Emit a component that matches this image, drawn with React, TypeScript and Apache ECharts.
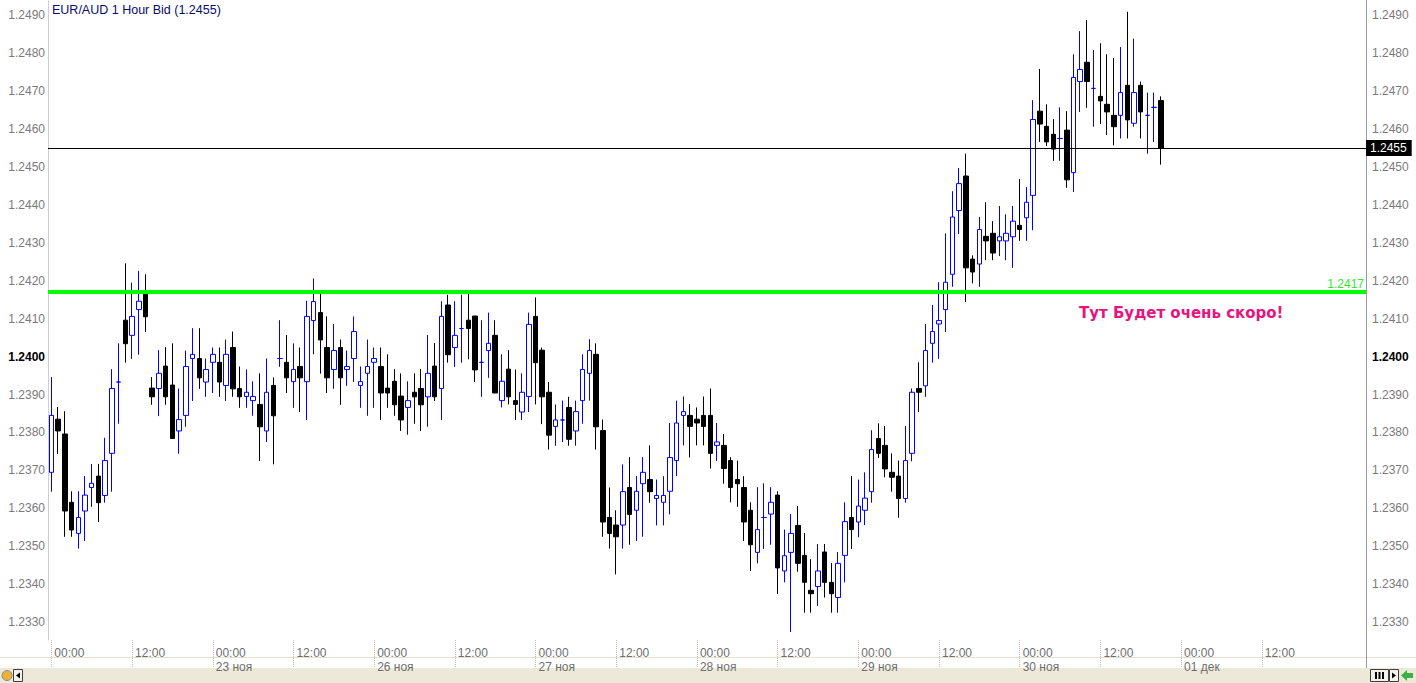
import React, { useEffect, useRef } from 'react';
import * as echarts from 'echarts';

const days = ['22 ноя', '23 ноя', '26 ноя', '27 ноя', '28 ноя', '29 ноя', '30 ноя', '01 дек', '02 дек'];
const slotCount = 196;

const open = [
  1.23695, 1.23835, 1.23796, 1.23616, 1.23534, 1.23593, 1.23655, 1.23685, 1.23634, 1.23745,
  1.23933, 1.24096, 1.24056, 1.24124, 1.24164, 1.23917, 1.23916, 1.23975, 1.23925, 1.23804,
  1.23845, 1.23995, 1.23995, 1.23933, 1.23985, 1.23985, 1.23924, 1.24024, 1.23916, 1.23895,
  1.23884, 1.23874, 1.23804, 1.23924, 1.23995, 1.23985, 1.23934, 1.23974, 1.23934, 1.24095,
  1.24116, 1.24024, 1.23966, 1.24024, 1.23966, 1.23995, 1.23924, 1.23956, 1.23985, 1.23974,
  1.23917, 1.23935, 1.23896, 1.23866, 1.23906, 1.23916, 1.23894, 1.23975, 1.23916, 1.24136,
  1.24024, 1.24074, 1.24096, 1.24107, 1.23985, 1.24016, 1.24056, 1.23884, 1.23967, 1.23884,
  1.23854, 1.23895, 1.24106, 1.24017, 1.23906, 1.23816, 1.23833, 1.23866, 1.23804, 1.23884,
  1.23956, 1.24006, 1.23805, 1.23576, 1.23556, 1.23556, 1.23655, 1.23595, 1.23665, 1.23676,
  1.23626, 1.23616, 1.23645, 1.23726, 1.23845, 1.23845, 1.23835, 1.23845, 1.23845, 1.23766,
  1.23766, 1.23726, 1.23676, 1.23655, 1.23595, 1.23484, 1.23576, 1.23585, 1.23635, 1.23435,
  1.23484, 1.23555, 1.23476, 1.23384, 1.23394, 1.23485, 1.23405, 1.23365, 1.23476, 1.23576,
  1.23564, 1.23595, 1.23644, 1.23784, 1.23766, 1.23695, 1.23685, 1.23626, 1.23745, 1.23916,
  1.23923, 1.24035, 1.24086, 1.24124, 1.24217, 1.24385, 1.24476, 1.24257, 1.24244, 1.24317,
  1.24325, 1.24305, 1.24305, 1.24316, 1.24346, 1.24366, 1.24425, 1.24647, 1.24607, 1.24586,
  1.24575, 1.24597, 1.24485, 1.24725, 1.24776, 1.24707, 1.24686, 1.24665, 1.24636, 1.24636,
  1.24715, 1.24615, 1.24715, 1.24636, 1.24657, 1.24675,
];

const close = [
  1.23845, 1.23804, 1.23593, 1.23543, 1.23576, 1.23635, 1.23666, 1.23615, 1.23726, 1.23916,
  1.23933, 1.24034, 1.24106, 1.24146, 1.24105, 1.23894, 1.23956, 1.23894, 1.23784, 1.23834,
  1.23974, 1.24006, 1.23944, 1.23966, 1.24006, 1.23933, 1.24006, 1.23915, 1.23894, 1.23906,
  1.23895, 1.23815, 1.23906, 1.23844, 1.23995, 1.23944, 1.23966, 1.23944, 1.24106, 1.24145,
  1.24044, 1.23944, 1.24016, 1.23944, 1.23974, 1.24066, 1.23934, 1.23974, 1.23995, 1.23904,
  1.23904, 1.23873, 1.23833, 1.23884, 1.23894, 1.23873, 1.23956, 1.23894, 1.24106, 1.24005,
  1.24056, 1.24074, 1.24074, 1.23965, 1.23985, 1.24035, 1.23904, 1.23935, 1.23894, 1.23874,
  1.23906, 1.24085, 1.23984, 1.23894, 1.23793, 1.23833, 1.23833, 1.23782, 1.23855, 1.23966,
  1.24016, 1.23815, 1.23564, 1.23534, 1.23525, 1.23644, 1.23584, 1.23645, 1.23695, 1.23644,
  1.23634, 1.23634, 1.23734, 1.23825, 1.23855, 1.23816, 1.23825, 1.23816, 1.23745, 1.23775,
  1.23705, 1.23655, 1.23665, 1.23564, 1.23504, 1.23544, 1.23576, 1.23616, 1.23443, 1.23475,
  1.23534, 1.23455, 1.23405, 1.23375, 1.23435, 1.23405, 1.23375, 1.23455, 1.23565, 1.23544,
  1.23606, 1.23627, 1.23755, 1.23745, 1.23704, 1.23682, 1.23626, 1.23726, 1.23906, 1.23906,
  1.24016, 1.24066, 1.24095, 1.24196, 1.24368, 1.24456, 1.24234, 1.24223, 1.24335, 1.24305,
  1.24273, 1.24316, 1.24325, 1.24357, 1.24335, 1.24407, 1.24625, 1.24613, 1.24566, 1.24547,
  1.24575, 1.24466, 1.24736, 1.24757, 1.24725, 1.24707, 1.24674, 1.24645, 1.24606, 1.24696,
  1.24624, 1.24696, 1.24645, 1.24636, 1.24657, 1.24550,
];

const low = [
  1.23644, 1.23743, 1.23525, 1.23525, 1.23494, 1.23514, 1.23604, 1.23564, 1.23615, 1.23644,
  1.23823, 1.23984, 1.23994, 1.24005, 1.24065, 1.23873, 1.23843, 1.23873, 1.23784, 1.23744,
  1.23815, 1.23883, 1.23915, 1.23894, 1.23904, 1.23894, 1.23883, 1.23894, 1.23865, 1.23865,
  1.23844, 1.23725, 1.23775, 1.23716, 1.23973, 1.23904, 1.23865, 1.23854, 1.23833, 1.24006,
  1.23955, 1.23904, 1.23915, 1.23873, 1.23923, 1.23933, 1.23865, 1.23844, 1.23865, 1.23833,
  1.23865, 1.23844, 1.23804, 1.23794, 1.23823, 1.23804, 1.23815, 1.23883, 1.23833, 1.23984,
  1.23973, 1.23984, 1.23993, 1.23933, 1.23894, 1.23944, 1.23904, 1.23866, 1.23874, 1.23833,
  1.23833, 1.23854, 1.23874, 1.23822, 1.23755, 1.23765, 1.23775, 1.23765, 1.23765, 1.23823,
  1.23884, 1.23755, 1.23525, 1.23494, 1.23426, 1.23494, 1.23504, 1.23514, 1.23525, 1.23615,
  1.23555, 1.23555, 1.23584, 1.23685, 1.23766, 1.23734, 1.23766, 1.23766, 1.23705, 1.23725,
  1.23665, 1.23616, 1.23604, 1.23514, 1.23435, 1.23455, 1.23493, 1.23504, 1.23374, 1.23405,
  1.23274, 1.23433, 1.23325, 1.23325, 1.23343, 1.23365, 1.23325, 1.23325, 1.23405, 1.23493,
  1.23524, 1.23556, 1.23615, 1.23733, 1.23682, 1.23644, 1.23575, 1.23615, 1.23724, 1.23854,
  1.23894, 1.23984, 1.23994, 1.24065, 1.24184, 1.24323, 1.24144, 1.24193, 1.24184, 1.24254,
  1.24254, 1.24265, 1.24254, 1.24234, 1.24305, 1.24305, 1.24333, 1.24566, 1.24555, 1.24516,
  1.24516, 1.24445, 1.24434, 1.24645, 1.24656, 1.24606, 1.24613, 1.24584, 1.24557, 1.24575,
  1.24575, 1.24606, 1.24575, 1.24535, 1.24566, 1.24506,
];

const high = [
  1.23946, 1.23867, 1.23856, 1.23645, 1.23645, 1.23685, 1.23717, 1.23717, 1.23786, 1.23967,
  1.24035, 1.24246, 1.24195, 1.24226, 1.24217, 1.23946, 1.24017, 1.24025, 1.24035, 1.23916,
  1.24016, 1.24075, 1.24075, 1.23995, 1.24024, 1.24024, 1.24045, 1.24066, 1.23974, 1.23966,
  1.23935, 1.23956, 1.23995, 1.23945, 1.24096, 1.24057, 1.24035, 1.24024, 1.24147, 1.24206,
  1.24166, 1.24106, 1.24086, 1.24045, 1.24016, 1.24106, 1.23974, 1.24045, 1.24024, 1.24024,
  1.24006, 1.23967, 1.23956, 1.23935, 1.23956, 1.23967, 1.24057, 1.24036, 1.24146, 1.24163,
  1.24146, 1.24163, 1.24175, 1.24107, 1.24096, 1.24116, 1.24096, 1.24006, 1.24017, 1.23966,
  1.23956, 1.24116, 1.24156, 1.24024, 1.23933, 1.23874, 1.23884, 1.23894, 1.23884, 1.24006,
  1.24046, 1.24035, 1.23834, 1.23655, 1.23595, 1.23716, 1.23735, 1.23685, 1.23735, 1.23766,
  1.23676, 1.23685, 1.23825, 1.23884, 1.23895, 1.23875, 1.23866, 1.23895, 1.23916, 1.23825,
  1.23796, 1.23735, 1.23726, 1.23685, 1.23616, 1.23656, 1.23666, 1.23656, 1.23645, 1.23544,
  1.23585, 1.23606, 1.23535, 1.23466, 1.23506, 1.23506, 1.23456, 1.23485, 1.23616, 1.23685,
  1.23676, 1.23695, 1.23806, 1.23824, 1.23817, 1.23745, 1.23726, 1.23817, 1.23916, 1.23985,
  1.24086, 1.24136, 1.24196, 1.24325, 1.24436, 1.24497, 1.24535, 1.24267, 1.24368, 1.24407,
  1.24357, 1.24397, 1.24375, 1.24397, 1.24468, 1.24447, 1.24676, 1.24758, 1.24665, 1.24626,
  1.24657, 1.24647, 1.24797, 1.24858, 1.24887, 1.24808, 1.24826, 1.24797, 1.24787, 1.24816,
  1.24909, 1.24838, 1.24725, 1.24696, 1.24696, 1.24686,
];

const yTicks = [
  1.233, 1.234, 1.235, 1.236, 1.237, 1.238, 1.239, 1.24,
  1.241, 1.242, 1.243, 1.244, 1.245, 1.246, 1.247, 1.248, 1.249,
];
const currentPrice = 1.2455;
const levelPrice = 1.2417;
const titleText = 'EUR/AUD 1 Hour Bid (1.2455)';
const noteText = 'Тут Будет очень скоро!';

const FONT = '"Liberation Sans", Arial, sans-serif';

export default function App() {
  const ref = useRef<HTMLDivElement>(null);

  useEffect(() => {
    if (!ref.current) return;
    const chart = echarts.init(ref.current, null, { renderer: 'svg' });

    const hours = Array.from({ length: 24 }, (_, h) => (h < 10 ? '0' : '') + h + ':00');
    const categories = days
      .flatMap((d) => hours.map((h) => d + ' ' + h))
      .slice(0, slotCount);

    const candleData: any[] = categories.map((_, i) => {
      if (i >= open.length) return '-';
      const v = [open[i], close[i], low[i], high[i]];
      if (open[i] === close[i]) {
        return { value: v, itemStyle: { color0: '#ffffff', borderColor0: '#0000ff' } };
      }
      return v;
    });

    const emptyLine = categories.map(() => '-');

    const yLabel = (v: number) => {
      const s = v.toFixed(4);
      return Math.abs(v - 1.24) < 1e-7 ? '{b|' + s + '}' : '{n|' + s + '}';
    };
    const yRich = {
      n: { color: '#7a7a7a', fontSize: 12, fontFamily: FONT },
      b: { color: '#000000', fontSize: 12, fontWeight: 'bold', fontFamily: FONT },
    };

    const showTick = (i: number) => i % 12 === 0 && i < 192;
    const showLabel = (i: number) => i % 12 === 0 && i < 190;

    const option: any = {
      animation: false,
      backgroundColor: '#ffffff',
      textStyle: { fontFamily: FONT },
      grid: { left: 48, right: 50, top: 0, bottom: 43, containLabel: false },
      xAxis: {
        type: 'category',
        data: categories,
        boundaryGap: true,
        axisLine: { show: false },
        splitLine: { show: false },
        axisTick: {
          show: true,
          alignWithLabel: true,
          interval: (i: number) => showTick(i),
          length: 28,
          lineStyle: { color: '#bdbdbd', type: 'dotted', width: 1 },
        },
        axisLabel: {
          interval: (i: number) => showLabel(i),
          align: 'left',
          margin: 6,
          padding: [0, 0, 0, 3],
          formatter: (value: string, index: number) => {
            const parts = value.split(' ');
            const hm = parts[2];
            if (hm === '00:00' && index > 0) {
              return '{t|' + hm + '}\n{d|' + parts[0] + ' ' + parts[1] + '}';
            }
            return '{t|' + hm + '}';
          },
          rich: {
            t: { color: '#6e6e6e', fontSize: 12, lineHeight: 14, fontFamily: FONT },
            d: { color: '#6e6e6e', fontSize: 12, lineHeight: 14, fontFamily: FONT },
          },
        },
      },
      yAxis: [
        {
          type: 'value',
          position: 'left',
          min: 1.23253,
          max: 1.2494,
          scale: true,
          splitLine: { show: false },
          axisTick: { show: false },
          axisLine: { show: true, lineStyle: { color: '#c4c4c4', type: 'dotted', width: 1 } },
          axisLabel: { customValues: yTicks, margin: 3, formatter: yLabel, rich: yRich },
        },
        {
          type: 'value',
          position: 'right',
          min: 1.23253,
          max: 1.2494,
          scale: true,
          splitLine: { show: false },
          axisTick: { show: false },
          axisLine: { show: true, lineStyle: { color: '#9c9c9c', width: 1 } },
          axisLabel: { customValues: yTicks, margin: 6, formatter: yLabel, rich: yRich },
        },
      ],
      series: [
        {
          type: 'line',
          data: emptyLine,
          yAxisIndex: 0,
          showSymbol: false,
          silent: true,
          z: 1,
          markLine: {
            silent: true,
            symbol: 'none',
            precision: 5,
            animation: false,
            data: [
              {
                yAxis: levelPrice,
                lineStyle: { color: '#00ff00', width: 4, type: 'solid' },
                label: {
                  show: true,
                  position: 'insideEndTop',
                  distance: 2,
                  formatter: () => levelPrice.toFixed(4),
                  color: '#33e633',
                  fontSize: 12,
                  fontFamily: FONT,
                },
              },
              {
                yAxis: currentPrice,
                lineStyle: { color: '#000000', width: 1, type: 'solid' },
                label: {
                  show: true,
                  position: 'end',
                  distance: 0,
                  formatter: () => currentPrice.toFixed(4),
                  color: '#ffffff',
                  backgroundColor: '#000000',
                  padding: [2, 5, 2, 4],
                  lineHeight: 12,
                  fontSize: 12,
                  fontFamily: FONT,
                },
              },
            ],
          },
        },
        {
          type: 'candlestick',
          data: candleData,
          yAxisIndex: 0,
          barWidth: 5,
          z: 3,
          itemStyle: {
            color: '#ffffff',
            color0: '#000000',
            borderColor: '#0000ff',
            borderColor0: '#000000',
            borderWidth: 1,
          },
        },
      ],
      graphic: [
        {
          type: 'text',
          left: 52,
          top: 3,
          style: { text: titleText, fill: '#0a0a6e', fontSize: 12.5, fontFamily: FONT },
        },
        {
          type: 'text',
          left: 1079,
          top: 305,
          style: { text: noteText, fill: '#e8137f', fontSize: 15, fontWeight: 'bold', fontFamily: '"DejaVu Sans", Verdana, sans-serif' },
        },
        {
          type: 'line',
          shape: { x1: 0, y1: 657.5, x2: 1416, y2: 657.5 },
          style: { stroke: '#e6e1cc', lineWidth: 1 },
        },
        {
          type: 'line',
          shape: { x1: 1366.5, y1: 640, x2: 1366.5, y2: 668 },
          style: { stroke: '#9c9c9c', lineWidth: 1 },
        },
        {
          type: 'group',
          z: 100,
          children: [
            { type: 'rect', shape: { x: 0, y: 668, width: 1416, height: 15 }, style: { fill: '#ece9d8' } },
            { type: 'circle', shape: { cx: 7, cy: 675.5, r: 5 }, style: { fill: '#f0b030', stroke: '#7a8aa8', lineWidth: 1 } },
            { type: 'rect', shape: { x: 13.5, y: 669.5, width: 9, height: 12 }, style: { fill: '#f4f3ee', stroke: '#3c3c3c', lineWidth: 1 } },
            { type: 'polygon', shape: { points: [[16, 675.5], [20, 672.5], [20, 678.5]] }, style: { fill: '#000' } },
            { type: 'rect', shape: { x: 1370.5, y: 669.5, width: 18, height: 12 }, style: { fill: '#f4f3ee', stroke: '#3c3c3c', lineWidth: 1 } },
            { type: 'rect', shape: { x: 1375, y: 672, width: 2, height: 7 }, style: { fill: '#000' } },
            { type: 'rect', shape: { x: 1378.5, y: 672, width: 2, height: 7 }, style: { fill: '#000' } },
            { type: 'rect', shape: { x: 1382, y: 672, width: 2, height: 7 }, style: { fill: '#000' } },
            { type: 'rect', shape: { x: 1389.5, y: 669.5, width: 9, height: 12 }, style: { fill: '#f4f3ee', stroke: '#3c3c3c', lineWidth: 1 } },
            { type: 'polygon', shape: { points: [[1396, 675.5], [1392, 672.5], [1392, 678.5]] }, style: { fill: '#000' } },
            { type: 'polygon', shape: { points: [[1401, 675.5], [1407, 670], [1407, 673], [1413, 673], [1413, 678], [1407, 678], [1407, 681]] }, style: { fill: '#3cb043' } },
          ],
        },
      ],
    };

    chart.setOption(option);
    return () => chart.dispose();
  }, []);

  return (
    <div
      ref={ref}
      style={{ position: 'fixed', left: 0, top: 0, width: 1416, height: 683, background: '#ffffff' }}
    />
  );
}
